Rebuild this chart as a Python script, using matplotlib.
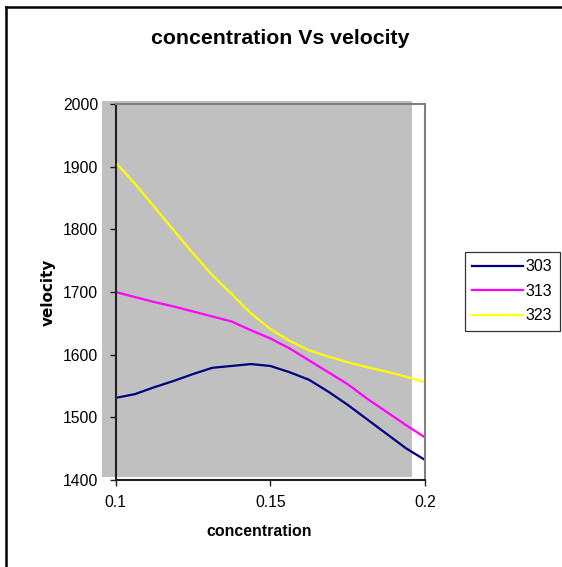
import matplotlib
matplotlib.use("Agg")
import matplotlib.pyplot as plt
from matplotlib.patches import Rectangle
from matplotlib.lines import Line2D

plt.rcParams['font.family'] = ['Liberation Sans', 'DejaVu Sans']

concentration = [0.1, 0.10625, 0.1125, 0.11875, 0.125, 0.13125, 0.1375, 0.14375,
                 0.15, 0.15625, 0.1625, 0.16875, 0.175, 0.18125, 0.1875, 0.19375, 0.2]
v303 = [1531, 1537, 1548, 1558, 1569, 1579, 1582, 1585,
        1582, 1572, 1560, 1541, 1520, 1497, 1474, 1451, 1432]
v313 = [1700, 1692, 1684, 1677, 1669, 1661, 1653, 1639,
        1626, 1610, 1591, 1572, 1553, 1530, 1509, 1488, 1468]
v323 = [1907, 1873, 1836, 1799, 1762, 1727, 1697, 1666,
        1641, 1622, 1607, 1597, 1588, 1580, 1573, 1565, 1556]
series_labels = ['303', '313', '323']
series_colors = ['#000080', '#FF00FF', '#FFFF00']
x_ticks = [0.1, 0.15, 0.2]
y_ticks = [1400, 1500, 1600, 1700, 1800, 1900, 2000]

W, H = 562, 567
fig = plt.figure(figsize=(W / 100, H / 100), dpi=100)

def fx(px):
    return px / W

def fy(py):
    return 1 - py / H

ax = fig.add_axes([fx(115.5), fy(480), fx(425) - fx(115.5), fy(104) - fy(480)])
ax.set_facecolor('none')

# Gray plot-area fill (offset as in the original)
ax.add_patch(Rectangle((fx(102), fy(477)), fx(411.5) - fx(102), fy(101) - fy(477),
                       transform=fig.transFigure, facecolor='#C0C0C0',
                       edgecolor='none', zorder=0.5, clip_on=False))

for vals, lab, col in zip([v303, v313, v323], series_labels, series_colors):
    ax.plot(concentration, vals, color=col, lw=1.6, label=lab,
            solid_joinstyle='round', zorder=2)

ax.set_xlim(0.1, 0.2)
ax.set_ylim(1400, 2000)
ax.set_xticks(x_ticks)
ax.set_xticklabels(['0.1', '0.15', '0.2'])
ax.set_yticks(y_ticks)
ax.set_yticklabels([str(v) for v in y_ticks])

for s in ['left', 'bottom']:
    ax.spines[s].set_color('#202020')
    ax.spines[s].set_linewidth(1.5)
for s in ['top', 'right']:
    ax.spines[s].set_color('#808080')
    ax.spines[s].set_linewidth(1.5)

ax.tick_params(axis='both', direction='out', length=4, width=1.0, color='#202020',
               labelsize=11.3, labelcolor='black')
ax.tick_params(axis='y', pad=8.5)
ax.tick_params(axis='x', pad=7)

fig.text(fx(280), fy(39), 'concentration Vs velocity', ha='center', va='center',
         fontsize=15.3, fontweight='bold')
fig.text(fx(259.5), fy(531.5), 'concentration', ha='center', va='center',
         fontsize=11.4, fontweight='bold')
fig.text(fx(48.5), fy(292.5), 'velocity', ha='center', va='center', rotation=90,
         fontsize=11, fontweight='bold', family='DejaVu Sans')

leg = ax.legend(loc='upper left', bbox_to_anchor=(fx(465), fy(252)),
                bbox_transform=fig.transFigure, borderaxespad=0,
                frameon=True, fancybox=False, edgecolor='black', fontsize=11.5,
                handlelength=3.2, handletextpad=0.15, labelspacing=0.6,
                borderpad=0.45)
leg.get_frame().set_linewidth(0.9)

# Outer chart border (top and left visible)
fig.add_artist(Line2D([fx(6.5), 1], [fy(6.5), fy(6.5)], transform=fig.transFigure,
                      color='black', lw=1.8))
fig.add_artist(Line2D([fx(6.5), fx(6.5)], [0, fy(6.5)], transform=fig.transFigure,
                      color='black', lw=1.8))

fig.savefig('out.png', dpi=100)
